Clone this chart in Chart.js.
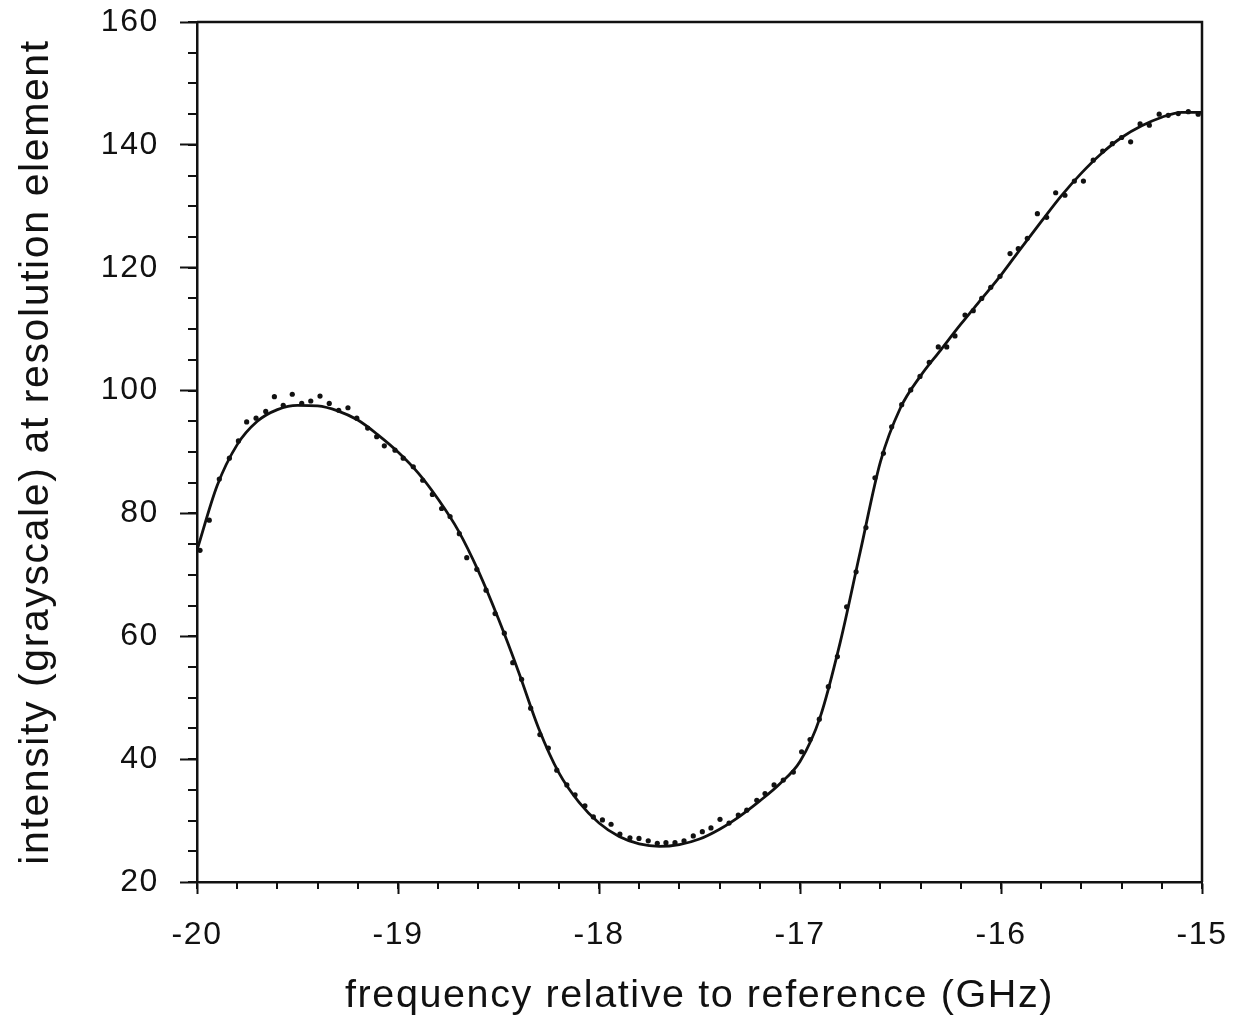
<!DOCTYPE html>
<html>
<head>
<meta charset="utf-8">
<script src="https://cdn.jsdelivr.net/npm/chart.js@4.4.1/dist/chart.umd.min.js"></script>
<style>
  html, body { margin: 0; padding: 0; background: #fff; }
  #wrap { width: 1236px; height: 1024px; }
</style>
</head>
<body>
<div id="wrap"><canvas id="plot"></canvas></div>
<script>
// measured points (dots)
const dotX = [
  -19.985, -19.939, -19.889, -19.839, -19.794, -19.753, -19.706, -19.658, -19.615, -19.571,
  -19.526, -19.479, -19.434, -19.388, -19.342, -19.295, -19.249, -19.205, -19.151, -19.106,
  -19.068, -19.015, -18.974, -18.924, -18.877, -18.829, -18.783, -18.741, -18.695, -18.658,
  -18.608, -18.562, -18.517, -18.471, -18.429, -18.385, -18.340, -18.294, -18.252, -18.210,
  -18.160, -18.119, -18.070, -18.028, -17.983, -17.940, -17.896, -17.846, -17.801, -17.755,
  -17.710, -17.667, -17.622, -17.577, -17.531, -17.486, -17.443, -17.398, -17.353, -17.307,
  -17.265, -17.215, -17.174, -17.129, -17.083, -17.033, -16.992, -16.950, -16.904, -16.859,
  -16.814, -16.768, -16.721, -16.672, -16.627, -16.585, -16.544, -16.494, -16.449, -16.403,
  -16.357, -16.312, -16.270, -16.229, -16.179, -16.138, -16.096, -16.051, -16.005, -15.955,
  -15.914, -15.869, -15.819, -15.773, -15.728, -15.682, -15.635, -15.590, -15.541, -15.494,
  -15.446, -15.400, -15.355, -15.308, -15.262, -15.213, -15.168, -15.118, -15.068, -15.019
];
const dotY = [
  74.0, 78.9, 85.6, 89.0, 91.8, 94.9, 95.5, 96.6, 99.0, 97.6,
  99.4, 97.9, 98.3, 99.1, 97.9, 96.8, 97.2, 95.5, 93.9, 92.5,
  91.0, 90.3, 89.0, 87.6, 85.4, 83.1, 80.8, 79.5, 76.7, 72.8,
  70.9, 67.5, 63.7, 60.5, 55.7, 53.0, 48.3, 44.0, 41.8, 38.2,
  35.8, 34.2, 32.4, 30.6, 30.1, 29.4, 27.8, 27.2, 27.1, 26.7,
  26.3, 26.4, 26.4, 26.7, 27.5, 28.2, 28.8, 30.2, 29.6, 30.9,
  31.7, 33.3, 34.4, 35.8, 36.6, 37.9, 41.2, 43.2, 46.5, 51.8,
  56.7, 64.8, 70.5, 77.7, 85.8, 89.8, 94.1, 97.7, 100.1, 102.3,
  104.6, 107.1, 107.1, 108.9, 112.3, 113.0, 115.0, 116.8, 118.6, 122.3,
  123.1, 124.8, 128.8, 128.2, 132.2, 131.8, 134.1, 134.1, 137.5, 139.0,
  140.2, 141.2, 140.5, 143.4, 143.2, 145.0, 144.8, 145.1, 145.4, 145.0
];

// fitted curve, sampled every 0.1 GHz
const fitX = [
  -20.0, -19.9, -19.8, -19.7, -19.6, -19.5, -19.4, -19.3, -19.2, -19.1,
  -19.0, -18.9, -18.8, -18.7, -18.6, -18.5, -18.4, -18.3, -18.2, -18.1,
  -18.0, -17.9, -17.8, -17.7, -17.6, -17.5, -17.4, -17.3, -17.2, -17.1,
  -17.0, -16.9, -16.8, -16.7, -16.6, -16.5, -16.4, -16.3, -16.2, -16.1,
  -16.0, -15.9, -15.8, -15.7, -15.6, -15.5, -15.4, -15.3, -15.2, -15.1, -15.0
];
const fitY = [
  74.0, 84.5, 91.2, 95.0, 96.9, 97.6, 97.5, 96.7, 95.2, 92.8,
  90.0, 86.6, 82.3, 77.2, 70.6, 62.8, 54.2, 45.0, 37.8, 33.0,
  29.6, 27.4, 26.2, 25.8, 26.1, 27.0, 28.6, 30.7, 33.2, 36.0,
  39.6, 46.8, 59.0, 73.8, 88.4, 97.2, 102.4, 106.6, 110.8, 114.8,
  118.8, 123.2, 127.5, 131.7, 135.4, 138.6, 141.2, 143.1, 144.5, 145.3, 145.3
];

const xTicks = [-20, -19, -18, -17, -16, -15];
const yTicks = [20, 40, 60, 80, 100, 120, 140, 160];
const xMinorStep = 0.2;
const yMinorStep = 5;

const INK = "#111";
const FONT = "'Liberation Sans', Arial, Helvetica, sans-serif";

// the scanned type is set wide, so space the letters out a little
const wideText = {
  id: "wideText",
  beforeDraw(chart) {
    if ("letterSpacing" in chart.ctx) chart.ctx.letterSpacing = "1.6px";
  },
  afterDraw(chart) {
    if ("letterSpacing" in chart.ctx) chart.ctx.letterSpacing = "0px";
  }
};

// minor ticks + closing frame (top and right edges)
const frameAndMinor = {
  id: "frameAndMinor",
  afterDraw(chart) {
    const { ctx, chartArea: a, scales: { x, y } } = chart;
    ctx.save();
    ctx.strokeStyle = INK;
    ctx.lineWidth = 2;
    ctx.beginPath();
    for (let v = x.min; v <= x.max + 1e-9; v += xMinorStep) {
      const px = Math.round(x.getPixelForValue(v));
      ctx.moveTo(px, a.bottom);
      ctx.lineTo(px, a.bottom + 7);
    }
    for (let v = y.min; v <= y.max + 1e-9; v += yMinorStep) {
      const py = Math.round(y.getPixelForValue(v));
      ctx.moveTo(a.left, py);
      ctx.lineTo(a.left - 9, py);
    }
    ctx.stroke();
    ctx.lineWidth = 2.5;
    ctx.beginPath();
    ctx.moveTo(a.left, a.top);
    ctx.lineTo(a.right, a.top);
    ctx.lineTo(a.right, a.bottom);
    ctx.stroke();
    ctx.restore();
  }
};

new Chart(document.getElementById("plot"), {
  type: "scatter",
  data: {
    datasets: [
      {
        label: "fit",
        data: fitX.map((v, i) => ({ x: v, y: fitY[i] })),
        showLine: true,
        cubicInterpolationMode: "monotone",
        borderColor: INK,
        borderWidth: 2.8,
        pointRadius: 0,
        order: 2
      },
      {
        label: "measured",
        data: dotX.map((v, i) => ({ x: v, y: dotY[i] })),
        showLine: false,
        backgroundColor: INK,
        borderColor: INK,
        pointRadius: 2.6,
        pointBorderWidth: 0,
        order: 1
      }
    ]
  },
  options: {
    responsive: true,
    maintainAspectRatio: false,
    animation: false,
    layout: { padding: { top: 22, right: 34, left: 0, bottom: 0 } },
    plugins: { legend: { display: false }, tooltip: { enabled: false } },
    scales: {
      x: {
        type: "linear",
        min: -20,
        max: -15,
        afterBuildTicks: s => { s.ticks = xTicks.map(v => ({ value: v })); },
        afterFit: s => { s.height = 142; s.paddingLeft = 0; s.paddingRight = 0; },
        border: { color: INK, width: 2.5 },
        grid: { drawOnChartArea: false, color: INK, tickLength: 12, tickWidth: 2 },
        ticks: { color: INK, padding: 22, font: { family: FONT, size: 32 } },
        title: {
          display: true,
          text: "frequency relative to reference (GHz)",
          color: INK,
          font: { family: FONT, size: 39.5 },
          padding: { top: 0, bottom: 4 }
        }
      },
      y: {
        type: "linear",
        min: 20,
        max: 160,
        afterBuildTicks: s => { s.ticks = yTicks.map(v => ({ value: v })); },
        afterFit: s => { s.width = 197; s.paddingTop = 0; s.paddingBottom = 0; },
        border: { color: INK, width: 2.5 },
        grid: { drawOnChartArea: false, color: INK, tickLength: 17, tickWidth: 2 },
        ticks: { color: INK, padding: 21, font: { family: FONT, size: 32 } },
        title: {
          display: true,
          text: "intensity (grayscale) at resolution element",
          color: INK,
          font: { family: FONT, size: 41 },
          padding: { top: 12, bottom: 0 }
        }
      }
    }
  },
  plugins: [wideText, frameAndMinor]
});
</script>
</body>
</html>
